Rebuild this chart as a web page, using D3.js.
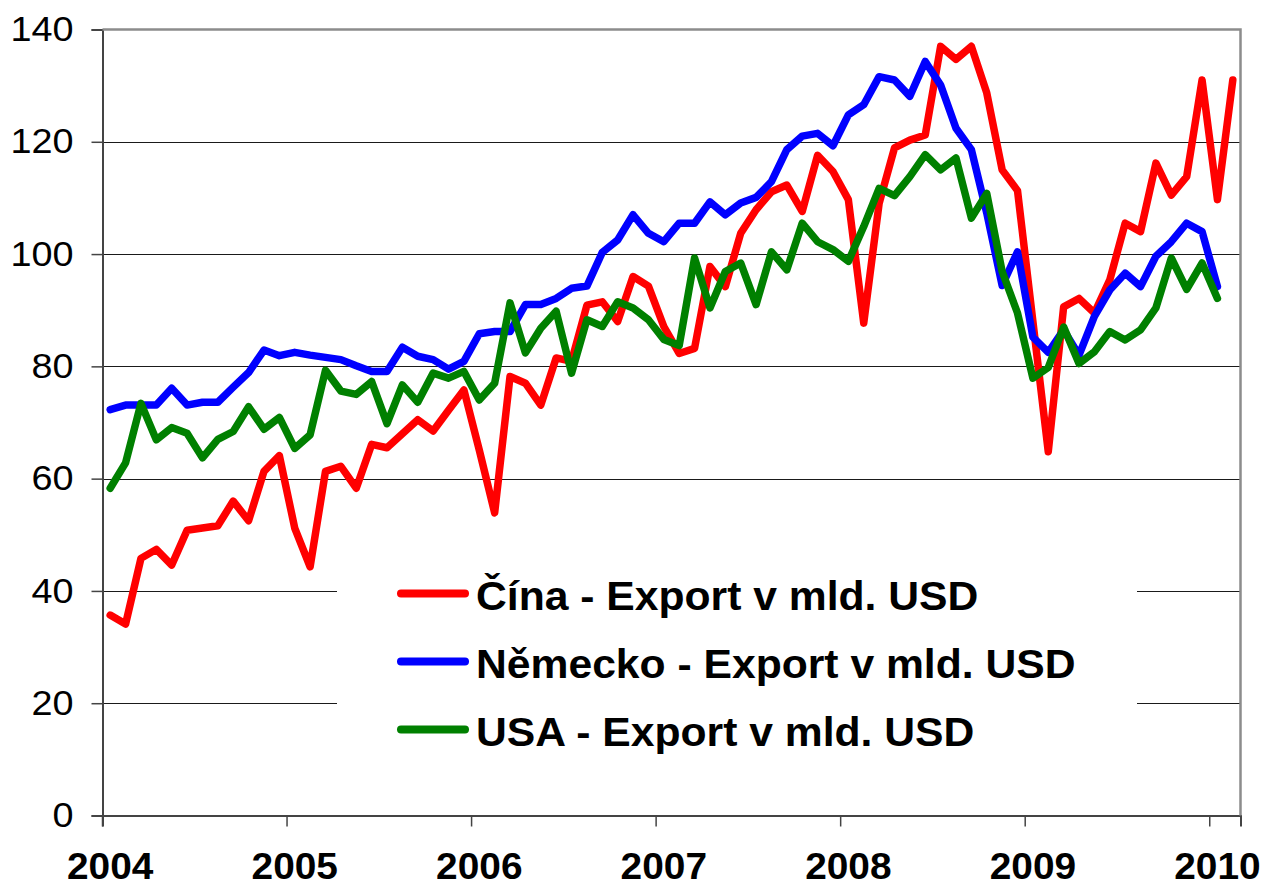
<!DOCTYPE html>
<html>
  <meta charset="utf-8" />
  <style>
    body {
      margin: 0;
      background: #fff;
    }
    .ylab {
      font-family: "Liberation Sans", Arial, sans-serif;
      font-size: 35px;
    }
    .xlab {
      font-family: "Liberation Sans", Arial, sans-serif;
      font-size: 37px;
      font-weight: bold;
    }
    .legtext {
      font-family: "Liberation Sans", Arial, sans-serif;
      font-size: 40px;
      font-weight: bold;
    }
    .series {
      fill: none;
      stroke-width: 7.5;
      stroke-linejoin: round;
      stroke-linecap: round;
    }
  </style>
  <body>
    <script src="https://d3js.org/d3.v7.min.js"></script>
    <script>
      let width = 1263,
        height = 887;

      // year labels on the category axis (one every 12 months)
      let years = ["2004", "2005", "2006", "2007", "2008", "2009", "2010"];
      let yTicks = [0, 20, 40, 60, 80, 100, 120, 140];

      // monthly export, bn USD, Jan 2004 onwards
      let china = [
        35.7, 34.1, 45.8, 47.4, 44.6, 50.8, 51.2, 51.6, 56.0, 52.5, 61.3, 64.1,
        51.2, 44.3, 61.3, 62.2, 58.3, 66.1, 65.5, 68.0, 70.5, 68.5, 72.2, 75.8,
        65.1, 53.9, 78.2, 77.0, 73.1, 81.5, 80.9, 90.9, 91.5, 88.0, 96.0, 94.3,
        87.1, 82.3, 83.2, 97.8, 94.2, 103.7, 107.9, 111.1, 112.3, 107.6, 117.6, 114.7,
        109.7, 87.7, 109.0, 118.9, 120.3, 121.2, 137.0, 134.7, 137.0, 128.7, 115.0, 111.3,
        88.0, 64.8, 90.6, 92.1, 89.5, 95.4, 105.5, 104.0, 116.2, 110.5, 113.8, 131.0,
        109.7, 131.0,
      ];
      let germany = [
        72.3, 73.1, 73.1, 73.1, 76.1, 73.1, 73.6, 73.6, 76.3, 78.9, 82.9, 81.9,
        82.5, 82.0, 81.6, 81.2, 80.1, 79.1, 79.1, 83.4, 81.8, 81.2, 79.5, 80.9,
        85.8, 86.2, 86.2, 91.0, 91.0, 92.1, 93.9, 94.3, 100.3, 102.5, 107.0, 103.7,
        102.2, 105.5, 105.5, 109.3, 107.0, 109.1, 110.1, 112.9, 118.6, 121.0, 121.5, 119.3,
        124.8, 126.6, 131.6, 131.0, 128.1, 134.3, 130.1, 122.4, 118.6, 107.3, 94.4, 100.4,
        85.2, 82.5, 86.5, 82.0, 88.9, 93.6, 96.6, 94.2, 99.6, 102.2, 105.5, 104.0,
        94.2,
      ];
      let usa = [
        58.3, 62.8, 73.4, 66.9, 69.1, 68.1, 63.7, 67.0, 68.4, 72.8, 68.8, 70.9,
        65.4, 67.8, 79.3, 75.6, 75.0, 77.3, 69.8, 76.7, 73.6, 78.8, 77.9, 79.1,
        74.0, 77.0, 91.3, 82.4, 86.8, 89.8, 78.8, 88.3, 87.1, 91.5, 90.4, 88.3,
        84.8, 83.7, 99.3, 90.4, 96.9, 98.4, 91.0, 100.4, 97.2, 105.5, 102.2, 100.8,
        98.7, 104.9, 111.7, 110.4, 113.8, 117.7, 115.0, 117.1, 106.4, 110.8, 96.9, 89.5,
        77.9, 79.8, 87.0, 80.5, 82.6, 86.2, 84.7, 86.5, 90.4, 99.3, 93.7, 98.4,
        92.1,
      ];

      let seriesNames = [
        "Čína - Export v mld. USD",
        "Německo - Export v mld. USD",
        "USA - Export v mld. USD",
      ];
      let seriesColors = ["#ff0000", "#0000ff", "#008000"];
      let seriesData = [china, germany, usa];

      let nMonths = 74; // Jan 2004 .. Feb 2010
      let months = d3.range(nMonths);

      let plotLeft = 102.5,
        plotRight = 1240.5,
        plotTop = 29.5,
        plotBottom = 815.5;

      let x = d3.scaleBand().domain(months).range([plotLeft, plotRight]).padding(0);
      let y = d3.scaleLinear().domain([0, 140]).range([plotBottom, plotTop]);

      let svg = d3
        .select("body")
        .append("svg")
        .attr("width", width)
        .attr("height", height);

      // the original picture is a bit wider than the font, stretch text a little
      function widen(sel, k) {
        sel.each(function () {
          let len = this.getComputedTextLength();
          d3.select(this)
            .attr("textLength", len * k)
            .attr("lengthAdjust", "spacingAndGlyphs");
        });
      }

      function drawGrid() {
        svg
          .append("g")
          .selectAll("line")
          .data(yTicks.filter((d) => d > 0 && d < 140))
          .join("line")
          .attr("x1", plotLeft)
          .attr("x2", plotRight)
          .attr("y1", (d) => Math.round(y(d)) + 0.5)
          .attr("y2", (d) => Math.round(y(d)) + 0.5)
          .attr("stroke", "#1a1a1a")
          .attr("stroke-width", 1.2);
      }

      function drawAxes() {
        // y axis on the left
        let yAxis = d3
          .axisLeft(y)
          .tickValues(yTicks)
          .tickSize(11)
          .tickPadding(18);
        let gy = svg
          .append("g")
          .attr("transform", "translate(" + plotLeft + ",0)")
          .call(yAxis);
        gy.attr("font-size", null).attr("font-family", null);
        gy.select(".domain").attr("stroke", "#444").attr("stroke-width", 2);
        gy.selectAll(".tick line").attr("stroke", "#444").attr("stroke-width", 1.5);
        gy.selectAll(".tick text").attr("class", "ylab").attr("fill", "#000");
        widen(gy.selectAll(".tick text"), 1.08);

        // x axis: ticks between years, labels under january
        let yearIdx = years.map((d, i) => i * 12);
        let xAxis = d3
          .axisBottom(x)
          .tickValues(yearIdx)
          .tickSize(11)
          .tickFormat((d) => years[d / 12]);
        let gx = svg
          .append("g")
          .attr("transform", "translate(0," + plotBottom + ")")
          .call(xAxis);
        gx.attr("font-size", null).attr("font-family", null);
        gx.select(".domain").attr("stroke", "#444").attr("stroke-width", 2);
        gx.selectAll(".tick line")
          .attr("x1", -x.bandwidth() / 2)
          .attr("x2", -x.bandwidth() / 2)
          .attr("stroke", "#444")
          .attr("stroke-width", 1.5);
        gx.selectAll(".tick text")
          .attr("class", "xlab")
          .attr("fill", "#000")
          .attr("dy", null)
          .attr("y", 63);
        widen(gx.selectAll(".tick text"), 1.05);

        // grey frame top + right
        svg
          .append("path")
          .attr(
            "d",
            "M" + plotLeft + "," + plotTop + "H" + plotRight + "V" + plotBottom
          )
          .attr("fill", "none")
          .attr("stroke", "#8c8c8c")
          .attr("stroke-width", 2.5);
      }

      function drawLines() {
        let line = d3
          .line()
          .x((d, i) => x(i) + x.bandwidth() / 2)
          .y((d) => y(d));

        svg
          .append("g")
          .selectAll("path")
          .data(seriesData)
          .join("path")
          .attr("class", "series")
          .attr("stroke", (d, i) => seriesColors[i])
          .attr("d", line);
      }

      function drawLegend() {
        let g = svg.append("g");
        g.append("rect")
          .attr("x", 337)
          .attr("y", 556)
          .attr("width", 800)
          .attr("height", 215)
          .attr("fill", "#fff");

        let rows = g
          .selectAll(".legrow")
          .data(seriesNames)
          .join("g")
          .attr("class", "legrow")
          .attr("transform", (d, i) => "translate(0," + (593.5 + i * 68) + ")");

        rows
          .append("line")
          .attr("x1", 401)
          .attr("x2", 465)
          .attr("stroke", (d, i) => seriesColors[i])
          .attr("stroke-width", 8)
          .attr("stroke-linecap", "round");

        let texts = rows
          .append("text")
          .attr("class", "legtext")
          .attr("x", 476)
          .attr("y", 16)
          .text((d) => d);
        widen(texts, 1.066);
      }

      drawGrid();
      drawAxes();
      drawLines();
      drawLegend();
    </script>
  </body>
</html>
